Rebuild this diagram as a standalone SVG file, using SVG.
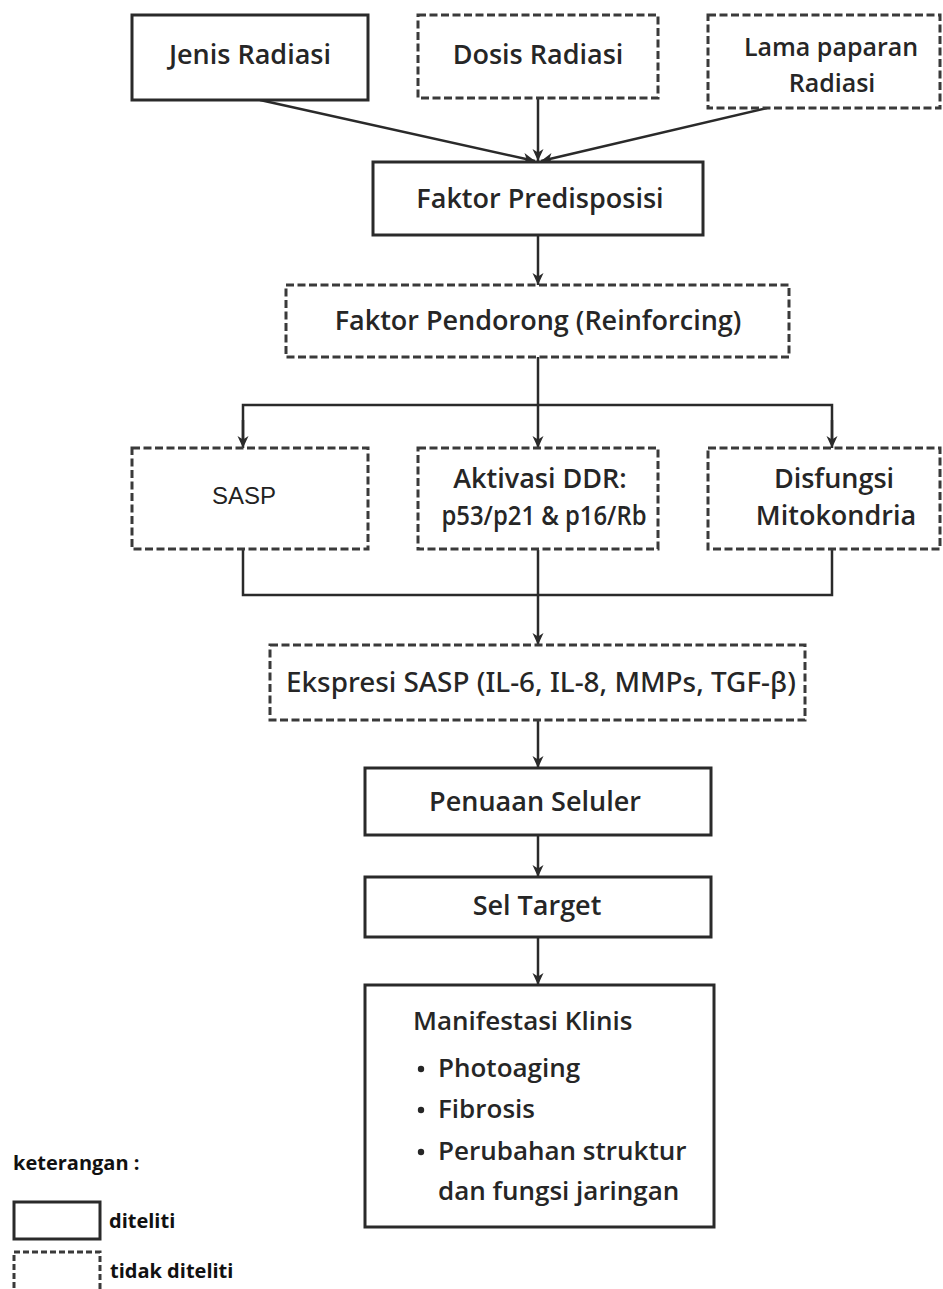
<svg xmlns="http://www.w3.org/2000/svg" width="943" height="1289" viewBox="0 0 943 1289">
<style>
.box{fill:#fff;stroke:#2a2a2a;stroke-width:3}
.dash{fill:#fff;stroke:#3a3a3a;stroke-width:3;stroke-dasharray:8 3.5}
.t{font-family:"Open Sans","Noto Sans",sans-serif;font-weight:600;font-size:27px;fill:#262626;text-anchor:middle}
.tl{font-family:"Open Sans","Noto Sans",sans-serif;font-weight:600;font-size:26px;fill:#262626}
.lg{font-family:"Open Sans","Noto Sans",sans-serif;font-weight:700;font-size:20px;fill:#111}
.ln{fill:none;stroke:#2a2a2a;stroke-width:2.5}
</style>
<defs>
<marker id="ar" viewBox="0 0 12 12" refX="12" refY="6" markerWidth="12" markerHeight="13" markerUnits="userSpaceOnUse" orient="auto">
<path d="M0,0.5 L12,6 L0,11.5 L3.5,6 Z" fill="#2a2a2a"/>
</marker>
</defs>
<rect width="943" height="1289" fill="#fff"/>
<g id="connectors">
<line class="ln" x1="260" y1="100" x2="535" y2="161" marker-end="url(#ar)"/>
<line class="ln" x1="538" y1="98" x2="538" y2="161" marker-end="url(#ar)"/>
<line class="ln" x1="767" y1="108" x2="541" y2="161" marker-end="url(#ar)"/>
<line class="ln" x1="538" y1="235" x2="538" y2="285" marker-end="url(#ar)"/>
<line class="ln" x1="538" y1="357" x2="538" y2="448" marker-end="url(#ar)"/>
<path class="ln" d="M243,440 V405 H832 V440"/>
<line class="ln" x1="243" y1="420" x2="243" y2="448" marker-end="url(#ar)"/>
<line class="ln" x1="832" y1="420" x2="832" y2="448" marker-end="url(#ar)"/>
<path class="ln" d="M243,550 V595 H832 V550"/>
<line class="ln" x1="538" y1="550" x2="538" y2="645" marker-end="url(#ar)"/>
<line class="ln" x1="538" y1="720" x2="538" y2="768" marker-end="url(#ar)"/>
<line class="ln" x1="538" y1="835" x2="538" y2="877" marker-end="url(#ar)"/>
<line class="ln" x1="538" y1="937" x2="538" y2="985" marker-end="url(#ar)"/>
</g>
<g id="jenis"><rect class="box" x="132" y="15" width="236" height="85"/><text class="t" x="250" y="64">Jenis Radiasi</text></g>
<g id="dosis"><rect class="dash" x="418" y="15" width="240" height="83"/><text class="t" x="538" y="64">Dosis Radiasi</text></g>
<g id="lama"><rect class="dash" x="708" y="15" width="232" height="93"/><text class="t" x="831" y="56" style="font-size:25px">Lama paparan</text><text class="t" x="832" y="92" style="font-size:25px">Radiasi</text></g>
<g id="predisposisi"><rect class="box" x="373" y="162" width="330" height="73"/><text class="t" x="540" y="208">Faktor Predisposisi</text></g>
<g id="pendorong"><rect class="dash" x="286" y="285" width="503" height="72"/><text class="t" x="538" y="330">Faktor Pendorong (Reinforcing)</text></g>
<g id="sasp"><rect class="dash" x="132" y="448" width="236" height="101"/><text x="244" y="504" style="font-family:'Liberation Sans',Arial,sans-serif;font-size:24px;fill:#222;text-anchor:middle">SASP</text></g>
<g id="ddr"><rect class="dash" x="418" y="448" width="240" height="101"/><text class="t" x="540" y="488">Aktivasi DDR:</text><text class="t" x="544" y="525" textLength="205" lengthAdjust="spacingAndGlyphs">p53/p21 &amp; p16/Rb</text></g>
<g id="mito"><rect class="dash" x="708" y="448" width="232" height="101"/><text class="t" x="834" y="488">Disfungsi</text><text class="t" x="836" y="525">Mitokondria</text></g>
<g id="ekspresi"><rect class="dash" x="270" y="645" width="535" height="75"/><text x="541" y="692" textLength="510" lengthAdjust="spacingAndGlyphs" style="font-family:'Noto Sans','Open Sans',sans-serif;font-weight:500;font-size:27px;fill:#262626;text-anchor:middle">Ekspresi SASP (IL-6, IL-8, MMPs, TGF-β)</text></g>
<g id="penuaan"><rect class="box" x="365" y="768" width="346" height="67"/><text class="t" x="535" y="811">Penuaan Seluler</text></g>
<g id="sel"><rect class="box" x="365" y="877" width="346" height="60"/><text class="t" x="537" y="915">Sel Target</text></g>
<g id="manifestasi"><rect class="box" x="365" y="985" width="349" height="242"/>
<text class="tl" x="413" y="1030">Manifestasi Klinis</text>
<circle cx="421" cy="1069" r="3.2" fill="#262626"/><text class="tl" x="438" y="1077">Photoaging</text>
<circle cx="421" cy="1110" r="3.2" fill="#262626"/><text class="tl" x="438" y="1118">Fibrosis</text>
<circle cx="421" cy="1152" r="3.2" fill="#262626"/><text class="tl" x="438" y="1160">Perubahan struktur</text>
<text class="tl" x="438" y="1200">dan fungsi jaringan</text>
</g>
<g id="legend">
<text class="lg" x="13" y="1170">keterangan :</text>
<rect class="box" x="14" y="1202" width="86" height="37" stroke-width="2"/>
<text class="lg" x="109" y="1228">diteliti</text>
<rect class="dash" x="14" y="1252" width="86" height="40" stroke-width="2" style="stroke-dasharray:6 3"/>
<text class="lg" x="110" y="1278">tidak diteliti</text>
</g>
</svg>
